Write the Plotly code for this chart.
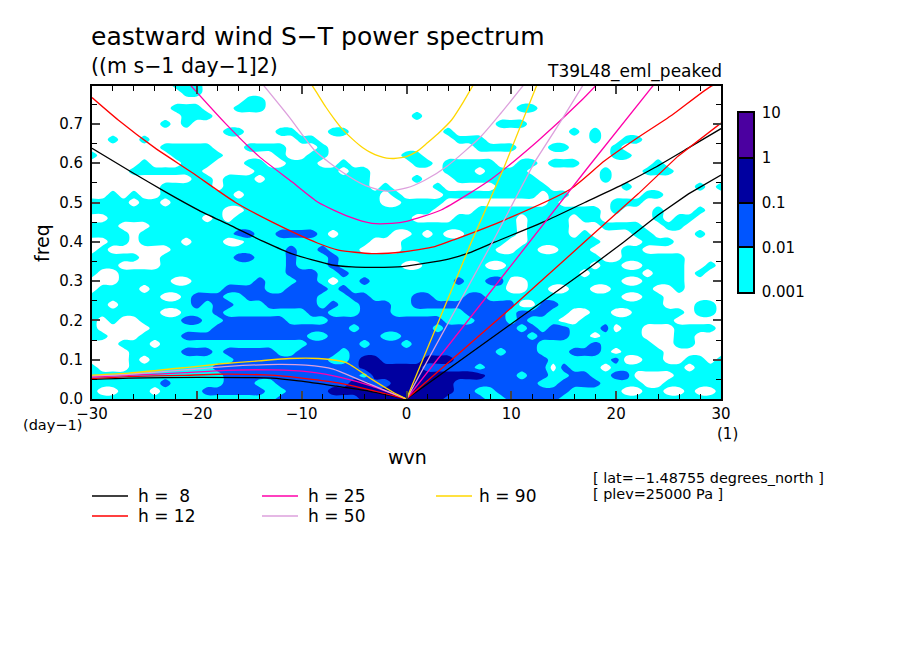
import plotly.graph_objects as go

# wavenumber / frequency grid of the power field
WVN = list(range(-30, 31))
FREQ = [0.80, 0.78, 0.76, 0.74, 0.72, 0.70, 0.68, 0.66, 0.64, 0.62, 0.60, 0.58, 0.56, 0.54, 0.52, 0.50,
        0.48, 0.46, 0.44, 0.42, 0.40, 0.38, 0.36, 0.34, 0.32, 0.30, 0.28, 0.26, 0.24, 0.22, 0.20, 0.18,
        0.16, 0.14, 0.12, 0.10, 0.08, 0.06, 0.04, 0.02, 0.00]
# power class per cell: . <0.001, 1 0.001-0.01, 2 0.01-0.1, 3 0.1-1
POWER_CLASS = [
"........11 1......... .......... . .......... .......... ..........",
".........1 1......... .......... . .......... .......... ..........",
".......... .....11... .......... . .......... .......... ..........",
"........11 1...111... .......... . .......... 11........ ..........",
".........1 11........ .......... . 1......... .......... ..........",
".......1.1 .......... .......... . ........11 1......... ..........",
".......... ...11...11 ...11..... . ...1...... .....1.1.. ..........",
"..1..1.... .......... 11........ . ....111... .......1.. 11........",
".......111 11...1111. ..1....... . ......1111 ...11....1 ..........",
"1.......11 111.....1. .11....... 1 1......... .........1 1.........",
".....1...1 11...11..1 11..1..... . 11.11111.. 11.111.... ...1......",
"....111111 1.....1111 1111.11... . ...111.111 1.......1. ..111.....",
".......... 11.111.111 1111111... . 1...111111 11......1. ..........",
".......111 11.1111111 1111111.1. . ..1.....11 111....... 1......1.1",
"..1.1..111 1111.11111 11111111.1 . ...1111111 11.11..... ..11......",
"1111.11.11 1111111111 11111111.. 1 111....... ...1.....1 11........",
"1111111111 111..11111 1111111111 1 11....1111 11111111.1 ...1...1..",
"..11111111 1.1.111111 1111111111 1 ....111111 .1111.11.. ...1.11...",
"111...1111 1111111111 1111111111 1 1111111111 .1111...11 11..11....",
"1111.11111 1111221122 221.11111. . 1.1..11111 .1111.1... .11....1..",
"..11.1111. 111..11111 1111111... 1 111111111. .1111111.. ..111.....",
".1......11 1111111112 112111.... 1 11111111.. 11..111... 11........",
"11111..111 1111221112 1112111111 1 1111111111 11111111.. 111111....",
"111....111 1111111112 1112111111 . .111111..1 1111111.11 ..1111..1.",
"1..1111111 1111111112 2211211111 1 1111111111 111111.111 11.111.1..",
"...11111.. 1111112111 221.112111 1 111121122. .111111111 ..1111....",
".1111.1111 1112222112 2221211111 1 111111111. .11..11..1 111..1....",
"1111111..1 2221122222 2211122111 1 2211122111 1111111111 ..11......",
"11.1111111 2122111222 2212112221 1 2222222222 ..22111111 1111...11.",
"1111111..1 1121111111 1221112221 1 1111122221 22211..11. .11111.11.",
"1.1..11112 2112222221 1112222222 2 2221112221 2111..1111 11111.....",
"1.....1111 1122222222 2222212222 2 2212222222 121221112. 11...1111.",
"11...11112 2222222222 2112222211 2 2222222222 2122211.11 11...11...",
"...111.111 1111111111 1222221222 1 2222222222 2211111211 111..11...",
"....111112 2212222211 2222122222 2 2222222212 221112221. 1111......",
"....1.1111 1111222222 2221123322 2 2333222222 2221111112 ..11..11.1",
"1...111111 1122222222 2222223333 3 3222221222 222.2111.1 111111.111",
"1111111111 1112222222 2222221333 3 3333333222 1221122112 2....11111",
"1111111211 1112221122 2222233223 3 3333222222 2211222211 11..111111",
"1..111.111 1222222112 2223333333 3 3333221122 2222211111 ..11..1..1",
"1111111111 1111111122 2222223333 3 3332222112 2222111111 1111111111",
]
CLASS_LOG = {".": -3.5, "1": -2.5, "2": -1.5, "3": -0.5}

# dispersion curves: (wavenumber, frequency)
H8_IG_K = [-30, -26.2, -23, -19.8, -16.9, -13.5, -10.9, -7.1, -5.2, -3, -0.4, 4, 5.9, 8.4, 13.2, 17, 20.8, 23.7, 26.9, 30]
H8_IG_F = [.638, .577, .527, .48, .443, .399, .369, .341, .336, .335, .337, .356, .371, .399, .452, .5, .548, .589, .639, .688]
H12_IG_K = [-30, -27.5, -24, -20.5, -16.3, -12.8, -8.5, -6.5, -3.3, -0.4, 2.7, 4.7, 9.4, 15.7, 18.9, 22, 25.3, 29, 30.5]
H12_IG_F = [.767, .71, .639, .577, .5, .45, .397, .379, .37, .374, .388, .407, .456, .535, .606, .664, .722, .795, .81]
H25_IG_K = [-21, -17.3, -14.1, -10.9, -8.4, -5.5, -3.3, -1.4, 0, 3.3, 8.1, 12.5, 16.7, 18.5]
H25_IG_F = [.81, .702, .618, .552, .5, .464, .447, .447, .452, .481, .56, .656, .76, .81]
H50_IG_K = [-14, -11.2, -8.7, -6.1, -3.9, -2, 0, 1.7, 3.9, 7.1, 9, 11.5]
H50_IG_F = [.81, .718, .631, .577, .543, .529, .537, .556, .593, .668, .727, .81]
H90_IG_K = [-9.3, -8.5, -7.7, -6.9, -6.1, -5.1, -4.2, -3.4, -2.6, -1.9, -1.2, -0.5, 0, 1, 2, 3, 4.3, 5.4, 6.6]
H90_IG_F = [.81, .777, .743, .713, .686, .66, .64, .627, .618, .613, .612, .614, .617, .63, .652, .675, .71, .755, .81]

H8_KW_K = [0, 5, 11.1, 17, 20.7, 24, 26.9, 30]
H8_KW_F = [0, .095, .211, .325, .399, .468, .522, .57]
H12_KW_K = [0, 5, 10, 17, 22.1, 25.9, 30]
H12_KW_F = [0, .115, .232, .4, .522, .618, .702]
H25_KW_K = [0, 5, 11.7, 17.3, 23.9]
H25_KW_F = [0, .17, .4, .589, .81]
H50_KW_K = [0, 4, 8.2, 12.2, 14.8, 17.1]
H50_KW_F = [0, .195, .399, .602, .71, .81]
H90_KW_K = [0, 3, 6.2, 9.3, 12.6]
H90_KW_F = [0, .195, .4, .589, .81]

H8_RW_K = [-30, -26.5, -19.8, -12.8, -10.3, -6.8, -3.6, 0]
H8_RW_F = [.05, .053, .055, .053, .046, .033, .02, 0]
H12_RW_K = [-30, -26.5, -21.4, -17.9, -12.5, -9.6, -6.5, -3.3, 0]
H12_RW_F = [.052, .057, .06, .063, .06, .052, .041, .022, 0]
H25_RW_K = [-30, -26.5, -21.1, -17.3, -12.8, -9.3, -6.1, -3.3, 0]
H25_RW_F = [.056, .06, .067, .073, .074, .069, .054, .033, 0]
H50_RW_K = [-30, -26.5, -21.1, -17, -12.2, -9.6, -7, -4.6, -1.9, 0]
H50_RW_F = [.059, .063, .074, .083, .088, .086, .076, .05, .02, 0]
H90_RW_K = [-30, -26.5, -21.1, -17.9, -14.1, -11.2, -8.4, -5.8, -3.3, -1.2, 0]
H90_RW_F = [.061, .066, .08, .089, .097, .103, .103, .093, .05, .016, 0]

X_TICKS = [-30, -20, -10, 0, 10, 20, 30]
Y_TICKS = [0, .1, .2, .3, .4, .5, .6, .7]
Y_TICK_TEXT = ["0.0", "0.1", "0.2", "0.3", "0.4", "0.5", "0.6", "0.7"]
BAR_EDGES = [-3, -2, -1, 0, 1]
BAR_CENTERS = [-2.5, -1.5, -0.5, 0.5]
BAR_TEXT = ["0.001", "0.01", "0.1", "1", "10"]

BLACK, RED, MAGENTA, PLUM, GOLD = "#000000", "#ff0000", "#ff00aa", "#dda0dd", "#ffd700"
CYAN, BLUE, NAVY, INDIGO = "#00ffff", "#0055ff", "#0000a0", "#4b00a0"
FONT = "DejaVu Sans"
W, H = 904, 654
L, R, T, B = 92, 721, 86, 399


def px(x):
    return x / W


def py(y):
    return 1 - y / H


z = []
for row in POWER_CLASS:
    cells = row.replace(" ", "").ljust(len(WVN), ".")[: len(WVN)]
    z.append([CLASS_LOG[c] for c in cells])

scale = [[0, "#ffffff"], [.2, "#ffffff"], [.2, CYAN], [.4, CYAN], [.4, BLUE], [.6, BLUE],
         [.6, NAVY], [.8, NAVY], [.8, INDIGO], [1, INDIGO]]

fig = go.Figure()
fig.add_trace(go.Contour(
    x=WVN, y=FREQ, z=z, zmin=-4, zmax=1, colorscale=scale, showscale=False, hoverinfo="skip",
    contours=dict(start=-3, end=0, size=1, coloring="fill"), line=dict(width=0)))

smooth_curves = [
    (H8_IG_K, H8_IG_F, BLACK), (H12_IG_K, H12_IG_F, RED), (H25_IG_K, H25_IG_F, MAGENTA),
    (H50_IG_K, H50_IG_F, PLUM), (H90_IG_K, H90_IG_F, GOLD),
    (H8_RW_K, H8_RW_F, BLACK), (H12_RW_K, H12_RW_F, RED), (H25_RW_K, H25_RW_F, MAGENTA),
    (H50_RW_K, H50_RW_F, PLUM), (H90_RW_K, H90_RW_F, GOLD),
]
straight_curves = [
    (H8_KW_K, H8_KW_F, BLACK), (H12_KW_K, H12_KW_F, RED), (H25_KW_K, H25_KW_F, MAGENTA),
    (H50_KW_K, H50_KW_F, PLUM), (H90_KW_K, H90_KW_F, GOLD),
]
for kx, fy, col in smooth_curves:
    fig.add_trace(go.Scatter(x=kx, y=fy, mode="lines", line=dict(color=col, width=1.3, shape="spline", smoothing=0.6),
                             hoverinfo="skip", showlegend=False))
for kx, fy, col in straight_curves:
    fig.add_trace(go.Scatter(x=kx, y=fy, mode="lines", line=dict(color=col, width=1.3),
                             hoverinfo="skip", showlegend=False))

fig.add_trace(go.Heatmap(
    x=[0, 1], y=BAR_EDGES, z=[[v] for v in BAR_CENTERS], xaxis="x2", yaxis="y2",
    colorscale=[[0, CYAN], [.33, CYAN], [.33, BLUE], [.5, BLUE], [.5, NAVY], [.75, NAVY], [.75, INDIGO], [1, INDIGO]],
    zmin=-3, zmax=1, showscale=False, hoverinfo="skip"))

ann = []


def text(x, y, s, size, xanchor="left", angle=0):
    ann.append(dict(x=px(x), y=py(y), xref="paper", yref="paper", text=s, showarrow=False, xanchor=xanchor,
                    yanchor="middle", textangle=angle, font=dict(family=FONT, size=size, color="black"),
                    borderpad=0))


text(90, 37, "eastward wind S\u2212T power spectrum", 25)
text(90, 66, "((m s\u22121 day\u22121]2)", 20.5)
text(723, 71, "T39L48_eml_peaked", 17, "right")
text(42, 243, "freq", 19, "center", -90)
text(407, 457, "wvn", 19, "center")
text(22, 425, "(day\u22121)", 14.5)
text(727, 434, "(1)", 15, "center")
text(592, 478, "[ lat=\u22121.48755 degrees_north ]", 14.4)
text(592, 494, "[ plev=25000 Pa ]", 14.4)

LEGEND = [(92, 496, 137, "h =  8", BLACK), (92, 516, 137, "h = 12", RED), (262, 496, 307, "h = 25", MAGENTA),
          (262, 516, 307, "h = 50", PLUM), (436, 496, 478, "h = 90", GOLD)]
shapes = []
for lx, ly, tx, s, col in LEGEND:
    shapes.append(dict(type="line", xref="paper", yref="paper", x0=px(lx), x1=px(lx + 36), y0=py(ly), y1=py(ly),
                       line=dict(color=col, width=1.5)))
    text(tx, ly, s.replace(" ", "\u00a0"), 17)

fig.update_layout(
    width=W, height=H, margin=dict(l=0, r=0, t=0, b=0, pad=0, autoexpand=False), autosize=False,
    paper_bgcolor="white", plot_bgcolor="white",
    showlegend=False, annotations=ann, shapes=shapes,
    xaxis=dict(domain=[px(L), px(R)], range=[-30, 30], tickvals=X_TICKS, ticks="inside", ticklen=8, tickwidth=2,
               showgrid=False, zeroline=False, showline=True, linewidth=2, linecolor="black", mirror="ticks",
               tickfont=dict(family=FONT, size=15, color="black"), ticklabelstandoff=0,
               minor=dict(dtick=2, ticks="inside", ticklen=5, tickwidth=1, tickcolor="black", showgrid=False)),
    yaxis=dict(domain=[py(B), py(T)], range=[0, (B - T) / 393.0], tickvals=Y_TICKS, ticktext=Y_TICK_TEXT,
               ticks="inside", ticklen=8, tickwidth=2, showgrid=False, zeroline=False, showline=True, linewidth=2,
               linecolor="black", mirror="ticks", tickfont=dict(family=FONT, size=15, color="black"),
               ticklabelstandoff=4,
               minor=dict(tick0=0, dtick=.05, ticks="inside", ticklen=5, tickwidth=1, tickcolor="black", showgrid=False)),
    xaxis2=dict(domain=[px(739), px(753)], range=[0, 1], anchor="y2", showticklabels=False, ticks="", showgrid=False,
                zeroline=False, showline=True, linewidth=1.5, linecolor="black", mirror=True),
    yaxis2=dict(domain=[py(292), py(113)], range=[-3, 1], anchor="x2", side="right", tickvals=BAR_EDGES, ticktext=BAR_TEXT,
                ticks="inside", ticklen=14, tickwidth=1.5, tickcolor="black", showgrid=False, zeroline=False, showline=True,
                linewidth=1.5, linecolor="black", mirror=True, ticklabelstandoff=4,
                tickfont=dict(family=FONT, size=15, color="black")),
)

fig.write_html("out.html", config=dict(displayModeBar=False),
               post_script="document.body.style.margin='0';document.body.style.overflow='hidden';")
